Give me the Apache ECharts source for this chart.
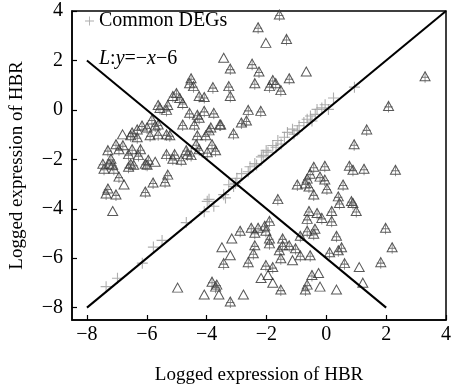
<!DOCTYPE html>
<html>
<head>
<meta charset="utf-8">
<script src="https://cdn.jsdelivr.net/npm/echarts@6/dist/echarts.min.js"></script>
<style>
  html, body { margin: 0; padding: 0; background: #fff; }
  #main { width: 454px; height: 390px; }
</style>
</head>
<body>
<div id="main"></div>
<script>
  // tick values on both axes
  const ticks = [-8, -6, -4, -2, 0, 2, 4];

  // common DEGs (grey crosses near the diagonal)
  const commonDegs = [
    [-7.36, -7.15], [-6.98, -6.81], [-6.15, -6.2], [-5.78, -5.55], [-5.49, -5.28],
    [-4.68, -4.56], [-4.08, -4.12], [-3.98, -3.7], [-3.76, -3.9], [-3.92, -3.62],
    [-3.43, -3.43], [-3.37, -3.56], [-3.26, -3.03], [-3.1, -3.1], [-3.04, -2.97],
    [-2.99, -2.77], [-2.83, -2.58], [-2.61, -2.5], [-2.55, -2.3], [-2.39, -2.17],
    [-2.33, -2.23], [-2.17, -1.9], [-2.11, -1.84], [-2.01, -1.64], [-1.95, -1.71],
    [-1.79, -1.44], [-1.68, -1.51], [-1.62, -1.24], [-1.51, -1.38], [-1.4, -1.11],
    [-1.3, -0.91], [-1.13, -0.78], [-1.08, -0.98], [-0.97, -0.84], [-0.91, -0.64],
    [-0.75, -0.51], [-0.64, -0.38], [-0.53, -0.25], [-0.48, -0.45], [-0.37, -0.18],
    [-0.31, 0.02], [-0.15, 0.08], [-0.04, 0.21], [0.07, 0.02], [0.24, 0.48],
    [0.94, 0.92]
  ];

  // DEGs drawn as triangle with a cross inside
  const degCrossed = [
    [-1.57, 3.86], [-2.28, 3.34], [-1.33, 2.87], [-3.21, 1.67], [-2.48, 1.87],
    [-2.25, 1.55], [-2.39, 1.08], [-1.79, 1.21], [-1.69, 1.08], [-1.9, 0.96],
    [-1.52, 0.8], [-1.24, 1.28], [-2.61, 0.0], [-2.19, -0.04], [-2.84, -0.51],
    [-2.67, -0.43], [-3.1, -0.95], [-3.53, -0.59], [-4.52, 1.28], [-4.44, 0.96],
    [-4.57, 1.08], [-3.79, 0.92], [-3.26, 0.96], [-3.21, 0.56], [-4.25, 0.56],
    [-4.08, 0.52], [-5.01, 0.68], [-4.9, 0.48], [-5.13, 0.56], [-4.8, 0.28],
    [-5.3, 0.2], [-5.34, 0.0], [-4.57, -0.12], [-4.31, -0.2], [-4.25, -0.32],
    [-4.08, -0.04], [-3.76, -0.12], [-4.41, -0.59], [-4.8, -0.59], [-3.86, -0.71],
    [-3.56, -0.59], [-5.62, 0.2], [-5.56, 0.08], [-5.83, -0.39], [-5.62, -0.59],
    [-5.99, -0.71], [-6.32, -0.79], [-6.49, -0.91], [-6.54, -1.03], [-6.32, -1.11],
    [-6.16, -0.63], [-5.89, -1.03], [-5.62, -0.99], [-5.34, -0.99], [-5.23, -1.03],
    [-4.31, -1.03], [-4.03, -1.03], [-3.92, -0.83], [-4.35, -1.39], [-3.82, -1.39],
    [-3.7, -1.63], [-4.25, -1.59], [-5.07, -1.79], [-4.64, -1.79], [-4.85, -2.02],
    [-5.34, -1.79], [-7.03, -1.39], [-6.8, -1.43], [-6.49, -1.59], [-6.21, -1.59],
    [-6.61, -1.79], [-6.28, -1.83], [-7.2, -1.98], [-7.26, -2.18], [-5.95, -2.02],
    [-6.54, -2.18], [-6.05, -2.18], [-7.47, -2.18], [-7.14, -2.22], [-7.1, -2.38],
    [-6.61, -2.3], [-6.44, -2.22], [-5.99, -2.22], [-6.93, -2.7], [-7.3, -3.18],
    [-7.36, -3.38], [-7.03, -3.42], [-6.05, -3.3], [-5.79, -2.94], [-5.39, -2.9],
    [-5.3, -2.62], [-7.43, -2.38], [-4.68, -1.63], [-5.13, -1.98], [-4.52, -1.83],
    [-3.98, -1.71], [-7.3, -1.63], [-6.93, -1.59], [-5.72, -0.63],
    [-2.88, -4.89], [-2.51, -4.77], [-2.28, -4.77], [-2.39, -4.97], [-3.43, -6.2],
    [-2.39, -5.48], [-2.44, -5.8], [-2.61, -6.16], [-3.82, -6.95], [-3.7, -7.15],
    [-3.21, -7.75], [-0.42, -2.3], [-0.05, -2.26], [0.77, -2.26], [-0.54, -2.58],
    [-0.64, -2.78], [-0.21, -2.7], [-0.05, -2.82], [-0.97, -3.02], [-0.7, -2.98],
    [-0.58, -3.1], [0.02, -3.18], [0.56, -3.02], [-0.42, -3.42], [-1.62, -3.61],
    [0.4, -3.5], [0.44, -3.77], [0.84, -3.69], [-0.58, -4.09], [-0.31, -4.17],
    [-0.64, -4.41], [-0.15, -4.37], [0.18, -4.09], [0.18, -4.49], [-1.9, -4.49],
    [-2.06, -4.69], [-2.02, -4.89], [-0.64, -4.89], [-0.38, -4.81], [-0.87, -5.09],
    [-0.42, -5.01], [0.34, -5.09], [-1.9, -5.2], [-1.9, -5.4], [-1.46, -5.2],
    [-1.46, -5.48], [-1.57, -5.68], [-1.24, -5.48], [-1.03, -5.6], [-0.87, -5.88],
    [-0.54, -5.88], [0.11, -5.76], [0.4, -5.68], [0.51, -5.56], [-1.52, -6.0],
    [0.61, -6.2], [-2.02, -6.28], [-1.79, -6.36], [-0.48, -6.68], [-0.64, -7.07],
    [-0.7, -7.27], [-1.52, -7.27], [0.89, -2.42], [1.26, -2.38], [2.31, -2.42],
    [0.89, -3.77], [1.0, -4.09], [1.98, -4.77], [2.2, -5.56], [1.82, -6.16],
    [1.35, -0.79], [0.93, -1.39], [2.08, 0.16], [3.3, 1.36], [-3.66, -7.07]
  ];

  // DEGs drawn as empty triangles
  const degPlain = [
    [-3.43, 2.11], [-2.02, 2.71], [-0.67, 1.55], [-6.81, -0.99], [-5.72, -2.1],
    [-6.76, -3.02], [-7.14, -4.09], [-3.16, -5.2], [-3.49, -5.56], [-3.21, -5.88],
    [-2.18, -6.8], [-4.97, -7.19], [-4.08, -7.47], [-3.59, -7.47], [-2.77, -7.47],
    [-1.13, -6.08], [-1.95, -6.68], [-1.79, -6.99], [-0.26, -6.6], [-0.21, -7.15],
    [0.34, -7.27], [1.1, -6.36], [1.22, -6.99]
  ];

  // reference lines
  const lineDiag = [[-8, -8], [4, 4]];
  const lineL = [[-8, 2], [2, -8]];

  const serif = "'Liberation Serif', 'Times New Roman', serif";
  const plusPath = 'path://M4.5,0H5.5V4.5H10V5.5H5.5V10H4.5V5.5H0V4.5H4.5Z';
  const minus = v => String(v).replace('-', '\u2212');

  const chart = echarts.init(document.getElementById('main'));

  const axisCommon = {
    type: 'value',
    min: -8.5,
    max: 4,
    axisLine: { show: true, onZero: false, lineStyle: { color: '#000', width: 1.5 } },
    axisTick: { show: true, inside: true, length: 5, customValues: ticks, lineStyle: { color: '#000', width: 1.2 } },
    splitLine: { show: false },
    nameLocation: 'middle',
    nameTextStyle: { fontFamily: serif, fontSize: 19, color: '#000' }
  };

  chart.setOption({
    animation: false,
    grid: {
      left: 70, right: 3, top: 11, bottom: 65,
      show: true, borderColor: '#000', borderWidth: 1.5
    },
    legend: {
      data: [{ name: 'Common DEGs', icon: plusPath }],
      left: 85, top: 11,
      itemWidth: 9, itemHeight: 9, padding: 0,
      textStyle: { fontFamily: serif, fontSize: 20, color: '#000' }
    },
    xAxis: Object.assign({}, axisCommon, {
      name: 'Logged expression of HBR',
      nameGap: 46,
      axisLabel: {
        customValues: ticks, margin: 5,
        fontFamily: serif, fontSize: 20, color: '#000',
        formatter: minus
      }
    }),
    yAxis: Object.assign({}, axisCommon, {
      name: 'Logged expression of HBR',
      nameGap: 45,
      nameRotate: 90,
      axisLabel: {
        customValues: ticks, margin: 9,
        fontFamily: serif, fontSize: 20, color: '#000',
        formatter: minus
      }
    }),
    graphic: [{
      type: 'text',
      left: 99, top: 49,
      style: {
        text: '{i|L}:{i|y}=\u2212{i|x}\u22126',
        fontFamily: serif, fontSize: 20, fill: '#000',
        rich: { i: { fontFamily: serif, fontSize: 20, fontStyle: 'italic' } }
      }
    }],
    series: [
      {
        name: 'Common DEGs',
        type: 'scatter',
        data: commonDegs,
        symbol: plusPath,
        symbolSize: 11,
        itemStyle: { color: '#9a9a9a' },
        z: 2
      },
      {
        name: 'DEGs',
        type: 'scatter',
        data: degCrossed,
        symbol: 'triangle',
        symbolSize: [10, 9],
        itemStyle: { color: 'rgba(255,255,255,0)', borderColor: '#2e2e2e', borderWidth: 1 },
        z: 3
      },
      {
        name: 'DEGs cross',
        type: 'scatter',
        data: degCrossed,
        symbol: plusPath,
        symbolSize: [8, 11],
        symbolOffset: [0, 1],
        itemStyle: { color: '#555' },
        z: 3
      },
      {
        name: 'DEGs plain',
        type: 'scatter',
        data: degPlain,
        symbol: 'triangle',
        symbolSize: [10, 9],
        itemStyle: { color: 'rgba(255,255,255,0)', borderColor: '#2e2e2e', borderWidth: 1 },
        z: 3
      },
      {
        type: 'line',
        data: lineDiag,
        symbol: 'none',
        lineStyle: { color: '#000', width: 2 },
        z: 5
      },
      {
        type: 'line',
        data: lineL,
        symbol: 'none',
        lineStyle: { color: '#000', width: 2 },
        z: 5
      }
    ]
  });
</script>
</body>
</html>
